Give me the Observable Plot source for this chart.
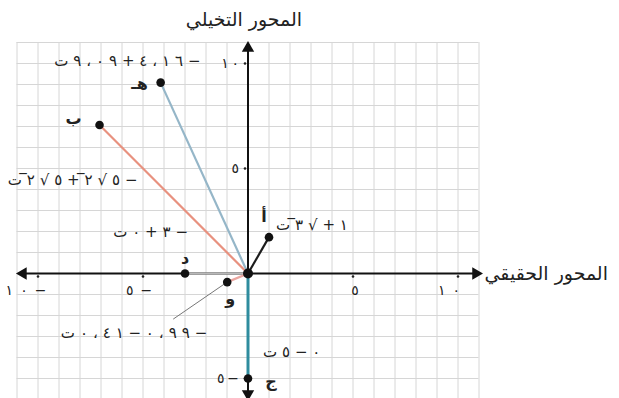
<!DOCTYPE html>
<html>
<head>
<meta charset="utf-8">
<script src="https://cdn.jsdelivr.net/npm/d3@7"></script>
<script src="https://cdn.jsdelivr.net/npm/@observablehq/plot@0.6"></script>
<style>
  html, body { margin: 0; padding: 0; background: #fff; }
  #chart svg { display: block; }
</style>
</head>
<body>
<div id="chart"></div>
<script>
// Complex numbers plotted as vectors in the complex plane
const names = ["أ", "ب", "هـ", "د", "و", "ج"];
const realParts = [1, -7.07, -4.16, -3, -0.99, 0];
const imagParts = [1.73, 7.07, 9.09, 0, -0.41, -5];
// value labels, written in visual (left-to-right) order
const valueLabels = [
  "ت٣̅√ + ١",
  "ت٢̅√٥ + ٢̅√٥−",
  "ت٩،٠٩ + ٤،١٦−",
  "ت٠ + ٣−",
  "ت٠،٤١ − ٠،٩٩−",
  "ت٥ − ٠"
];
const vectorColors = ["#1c1c1c", "#e8917f", "#95b6c8", "#b8b8b8", "#eaa6a0", "#2f8c9e"];

const xTicks = [-10, -5, 5, 10];
const xTickLabels = ["١٠−", "٥−", "٥", "١٠"];
const yTicks = [10, 5, -5];
const yTickLabels = ["١٠", "٥", "٥−"];

const realTitle = "المحور الحقيقي";
const imagTitle = "المحور التخيلي";

// Arabic script ignores letter-spacing, so open the numerals up with narrow spaces
const LRO = "\u202D", PDF = "\u202C";
function spaced(s, sep) {
  const chars = Array.from(s);
  let out = "";
  chars.forEach((c, i) => {
    out += c;
    const next = chars[i + 1];
    if (next === undefined) return;
    const nextIsMark = /[\u0300-\u036F]/.test(next);
    if (!nextIsMark && c !== " " && next !== " ") out += sep;
  });
  return LRO + out + PDF;
}

const points = names.map((n, i) => ({
  name: n, re: realParts[i], im: imagParts[i],
  label: spaced(valueLabels[i], "\u2004"), color: vectorColors[i]
}));

// layout: plane origin and scale in pixels
const W = 619, H = 398;
const ox = 247.5, oy = 273, unit = 21;
const xDomain = [-ox / unit, (W - ox) / unit];
const yDomain = [(oy - H) / unit, oy / unit];

// pixel offsets of the letter and value label around each point
const letterOff = {
  "أ": [-5, -20], "ب": [-26, -6], "هـ": [-21, 1], "د": [0, -15], "و": [3, 17], "ج": [23, 3]
};
const labelOff = {
  "أ": [7, -12, "start"], "ب": [38, 55, "end"], "هـ": [40, -21, "end"],
  "د": [3, -41, "end"], "و": [-20, 51, "end"], "ج": [15, -26, "start"]
};
const xTickDx = [-12, -4, 2, -9];

const gridX = d3.range(-11, 12);
const gridY = d3.range(-6, 12);
const xEnds = [-10.93, 11.07];
const yEnds = [10.95, -5.95];

const byName = n => points.filter(p => p.name === n);
const xTickText = xTickLabels.map(s => spaced(s, "\u2002"));
const yTickText = yTickLabels.map(s => spaced(s, "\u2009"));

const marks = [
  // grid
  Plot.ruleX(gridX, {y1: -6.2, y2: 11, stroke: "#d6d6d6", strokeWidth: 1}),
  Plot.ruleY(gridY, {x1: -11, x2: 11, stroke: "#d6d6d6", strokeWidth: 1}),
  // axes
  Plot.link([0], {x1: () => xEnds[0] + 0.3, x2: () => xEnds[1] - 0.3, y1: () => 0, y2: () => 0, stroke: "#111", strokeWidth: 2}),
  Plot.link([0], {y1: () => yEnds[0] - 0.3, y2: () => yEnds[1] + 0.3, x1: () => 0, x2: () => 0, stroke: "#111", strokeWidth: 2}),
  // tick marks
  Plot.dot(xTicks, {x: d => d, y: () => 0, dy: 3, r: 1.3, fill: "#222", stroke: null}),
  Plot.dot(yTicks, {y: d => d, x: () => 0, dx: -3, r: 1.3, fill: "#222", stroke: null}),
  // vectors
  Plot.link(points, {x1: () => 0, y1: () => 0, x2: "re", y2: "im", stroke: "color", strokeWidth: d => d.name === "ج" ? 3 : 2.2}),
  // leader line for و
  Plot.link(byName("و"), {x1: d => d.re - 0.15, y1: d => d.im - 0.1, x2: d => d.re - 54 / unit, y2: d => d.im - 37 / unit, stroke: "#777", strokeWidth: 1}),
  // arrow heads
  Plot.dot([0], {x: () => xEnds[1] - 0.22, y: () => 0, symbol: "triangle", r: 4.6, rotate: 90, fill: "#111", stroke: null}),
  Plot.dot([0], {x: () => xEnds[0] + 0.22, y: () => 0, symbol: "triangle", r: 4.6, rotate: -90, fill: "#111", stroke: null}),
  Plot.dot([0], {x: () => 0, y: () => yEnds[0] - 0.22, symbol: "triangle", r: 4.6, rotate: 0, fill: "#111", stroke: null}),
  Plot.dot([0], {x: () => 0, y: () => yEnds[1] + 0.22, symbol: "triangle", r: 4.6, rotate: 180, fill: "#111", stroke: null}),
  // points
  Plot.dot([0], {x: () => 0, y: () => 0, r: 5, fill: "#111", stroke: null}),
  Plot.dot(points, {x: "re", y: "im", r: 4.3, fill: "#111", stroke: null}),
  // tick labels
  ...xTicks.map((t, i) => Plot.text([t], {x: d => d, y: () => 0, text: () => xTickText[i], dy: 17, dx: xTickDx[i], fontSize: 14})),
  Plot.text(yTicks, {y: d => d, x: () => 0, text: (d, i) => yTickText[i], dx: -9, textAnchor: "end", fontSize: 14}),
  // axis titles
  Plot.text([realTitle], {x: () => xEnds[1], y: () => 0, text: d => d, dx: 4, textAnchor: "start", fontSize: 19}),
  Plot.text([imagTitle], {x: () => 0, y: () => yEnds[0], text: d => d, dy: -24, dx: -4, fontSize: 19})
];

for (const p of points) {
  const [lx, ly] = letterOff[p.name];
  marks.push(Plot.text([p], {x: "re", y: "im", text: "name", dx: lx, dy: ly, fontSize: 16, fontWeight: 600}));
  const [vx, vy, anchor] = labelOff[p.name];
  marks.push(Plot.text([p], {x: "re", y: "im", text: "label", dx: vx, dy: vy, textAnchor: anchor, fontSize: 15}));
}

const chart = Plot.plot({
  width: W,
  height: H,
  margin: 0,
  x: {domain: xDomain, axis: null},
  y: {domain: yDomain, axis: null},
  color: {type: "identity"},
  style: {fontFamily: "DejaVu Sans", fontSize: "13px", background: "#fff", color: "#222"},
  marks
});
document.getElementById("chart").append(chart);
</script>
</body>
</html>
